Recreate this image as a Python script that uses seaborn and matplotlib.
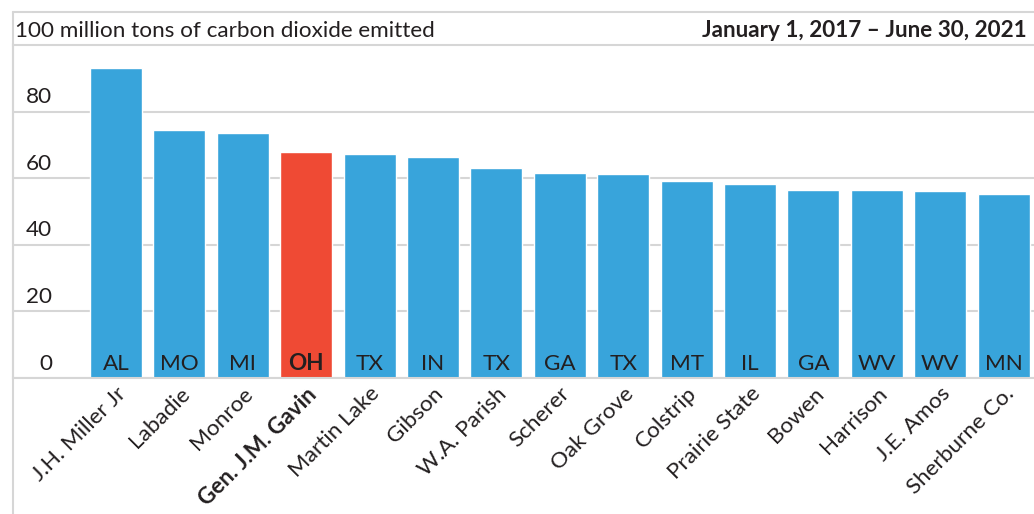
import matplotlib
matplotlib.use("Agg")
import matplotlib.pyplot as plt
from matplotlib.lines import Line2D
import seaborn as sns
import pandas as pd

plants = ["J.H. Miller Jr", "Labadie", "Monroe", "Gen. J.M. Gavin", "Martin Lake",
          "Gibson", "W.A. Parish", "Scherer", "Oak Grove", "Colstrip",
          "Prairie State", "Bowen", "Harrison", "J.E. Amos", "Sherburne Co."]
states = ["AL", "MO", "MI", "OH", "TX", "IN", "TX", "GA", "TX", "MT",
          "IL", "GA", "WV", "WV", "MN"]
emissions = [93.0, 74.5, 73.5, 68.0, 67.2, 66.3, 63.0, 61.7, 61.4, 59.3,
             58.4, 56.6, 56.6, 56.3, 55.4]
highlight = "Gen. J.M. Gavin"
y_ticks = [0, 20, 40, 60, 80]
title_left = "100 million tons of carbon dioxide emitted"
title_right = "January 1, 2017 \u2013 June 30, 2021"

BLUE = "#38a4db"
RED = "#ef4a34"
GRID = "#d6d6d6"
TXT = "#231f20"
FS = 16.2

sns.set_theme(style="white")
plt.rcParams["font.family"] = ["Lato", "DejaVu Sans"]

df = pd.DataFrame({"plant": plants, "state": states, "value": emissions})
df["group"] = ["hi" if p == highlight else "lo" for p in plants]

W, H = 1034, 514
fig = plt.figure(figsize=(W / 100, H / 100), dpi=100)
x0, y_top, y_base = 13, 45, 378
ax = fig.add_axes([x0 / W, (H - y_base) / H, (W - x0) / W, (y_base - y_top) / H])

sns.barplot(data=df, x="plant", y="value", hue="group",
            palette={"hi": RED, "lo": BLUE}, width=0.82, ax=ax,
            legend=False, saturation=1)

ax.set_xlim(-1.625, 14.48)
ax.set_ylim(0, 100)
ax.set_xlabel("")
ax.set_ylabel("")
ax.set_yticks(y_ticks)
ax.set_yticklabels([])
ax.tick_params(axis="y", length=0)
ax.yaxis.grid(True, color=GRID, linewidth=1.5)
ax.set_axisbelow(True)
ax.spines["right"].set_visible(False)
for s in ["top", "left", "bottom"]:
    ax.spines[s].set_color(GRID)
    ax.spines[s].set_linewidth(1.5)

for v in y_ticks:
    ax.annotate(str(v), xy=((52 - x0) / (W - x0), v),
                xycoords=("axes fraction", "data"),
                xytext=(0, 6), textcoords="offset points",
                ha="right", va="baseline", fontsize=FS, color=TXT)

for i, (p, st) in enumerate(zip(plants, states)):
    ax.annotate(st, xy=(i, 0), xycoords="data", xytext=(0, 6),
                textcoords="offset points", ha="center", va="baseline",
                fontsize=FS, color=TXT,
                fontweight="bold" if p == highlight else "normal")

ax.tick_params(axis="x", length=0, pad=4)
ax.set_xticks(range(len(plants)))
ax.set_xticklabels(plants, rotation=45, ha="right", rotation_mode="anchor",
                   fontsize=FS, color=TXT)
for lbl in ax.get_xticklabels():
    if lbl.get_text() == highlight:
        lbl.set_fontweight("bold")

# header frame
fig.add_artist(Line2D([x0 / W, 1], [(H - 11.5) / H] * 2, color=GRID, lw=1.5))
fig.add_artist(Line2D([x0 / W] * 2, [0, (H - 11.5) / H], color=GRID, lw=1.5))
fig.text(15 / W, (H - 37) / H, title_left, ha="left", va="baseline",
         fontsize=FS, color=TXT)
fig.text(1027 / W, (H - 37) / H, title_right, ha="right", va="baseline",
         fontsize=FS, color=TXT, fontweight="bold")

fig.savefig("out.png", dpi=100)
